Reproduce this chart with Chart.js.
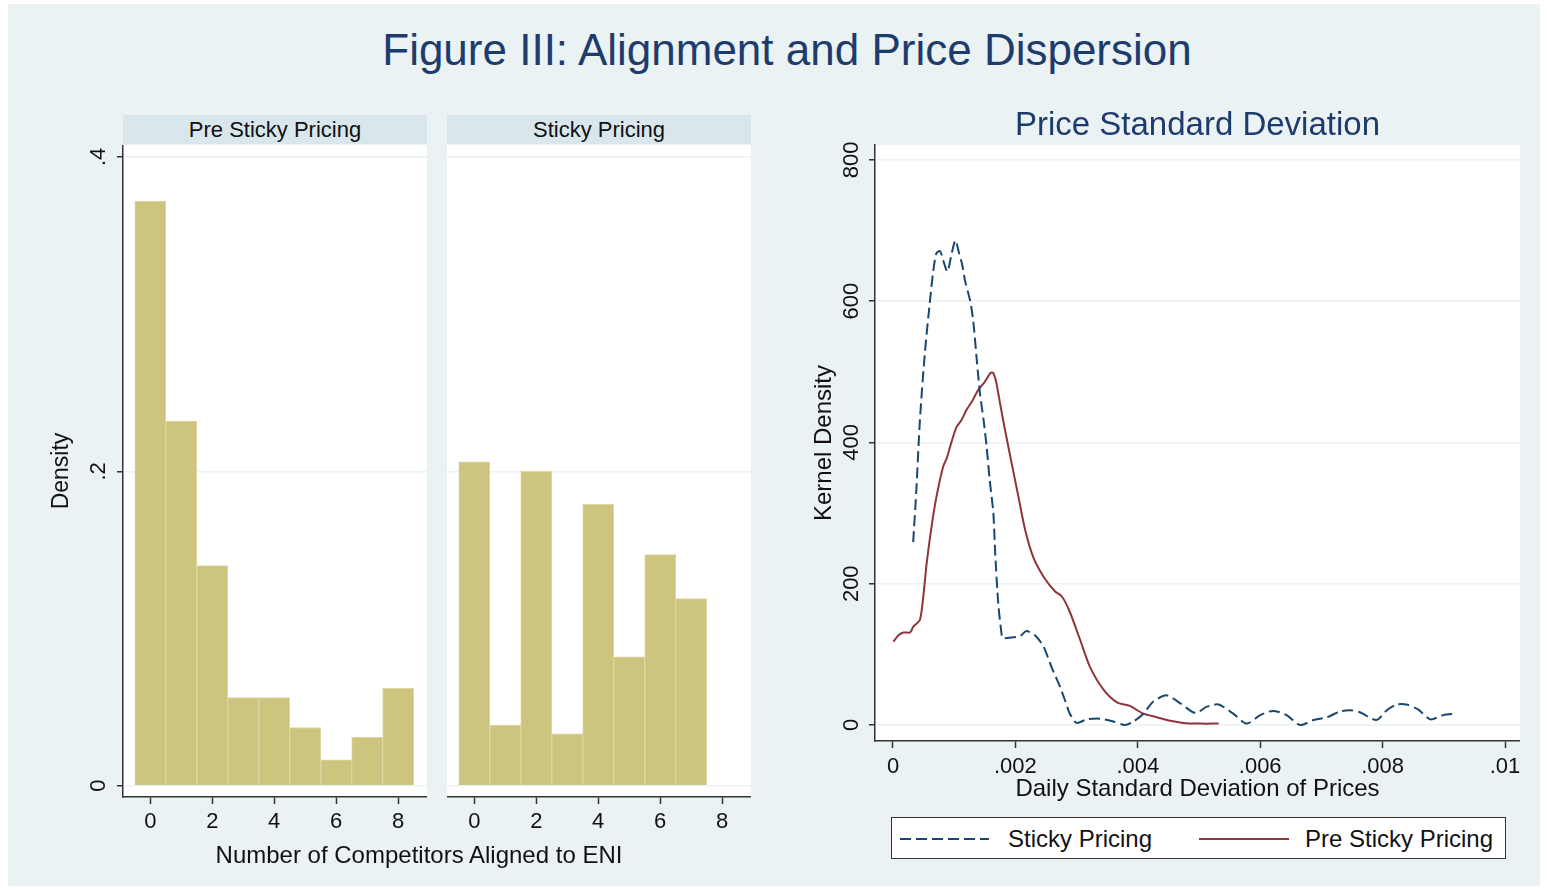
<!DOCTYPE html>
<html>
<head>
<meta charset="utf-8">
<script src="https://cdn.jsdelivr.net/npm/chart.js@4.4.1/dist/chart.umd.min.js"></script>
<style>
  html, body { margin: 0; padding: 0; background: #fff; }
  body { width: 1547px; height: 890px; position: relative; overflow: hidden;
         font-family: "Liberation Sans", Arial, sans-serif; }
  #frame { position: absolute; left: 8px; top: 4px; width: 1532px; height: 882px; background: #eaf2f3; }
  .abs { position: absolute; }
  #mainTitle { left: 0; width: 1574px; top: 25px; text-align: center; font-size: 44px; color: #1d3c6d; white-space: nowrap; }
  .strip { height: 29px; line-height: 29px; background: #d9e6eb; text-align: center; font-size: 22px; color: #111; }
  #histXTitle { left: 123px; width: 592px; top: 841px; text-align: center; font-size: 24px; color: #111; white-space: nowrap; }
  #legend { left: 891px; top: 817px; width: 613px; height: 40px; background: #fff; border: 1.5px solid #333; }
  #legend span { position: absolute; top: 7px; font-size: 24px; color: #111; white-space: nowrap; }
  #legend svg { position: absolute; left: 0; top: 0; }
</style>
</head>
<body>
<div id="frame"></div>
<div id="mainTitle" class="abs">Figure III: Alignment and Price Dispersion</div>
<div class="abs strip" style="left:123px; top:115px; width:304px;">Pre Sticky Pricing</div>
<div class="abs strip" style="left:447px; top:115px; width:304px;">Sticky Pricing</div>
<canvas id="histPre" class="abs" style="left:40px; top:145px;" width="387" height="700"></canvas>
<canvas id="histSticky" class="abs" style="left:447px; top:145px;" width="304" height="700"></canvas>
<div id="histXTitle" class="abs">Number of Competitors Aligned to ENI</div>
<canvas id="kdens" class="abs" style="left:780px; top:100px;" width="740" height="710"></canvas>
<div id="legend" class="abs">
  <svg width="613" height="40">
    <line x1="8" y1="21" x2="97" y2="21" stroke="#1a476f" stroke-width="2" stroke-dasharray="11,5"></line>
    <line x1="307" y1="21" x2="397" y2="21" stroke="#90353b" stroke-width="2"></line>
  </svg>
  <span style="left:116px;">Sticky Pricing</span>
  <span style="left:413px;">Pre Sticky Pricing</span>
</div>
<script>
// ---------- Data ----------
var binsPre = [0, 1, 2, 3, 4, 5, 6, 7, 8];
var densityPre = [0.372, 0.232, 0.140, 0.056, 0.056, 0.037, 0.0165, 0.031, 0.062];
var binsSticky = [0, 1, 2, 3, 4, 5, 6, 7];
var densitySticky = [0.206, 0.0386, 0.200, 0.033, 0.179, 0.082, 0.147, 0.119];
var histYTicks = [0, 0.2, 0.4];
var histXTicks = [0, 2, 4, 6, 8];

// kernel density of daily price std. dev.
var stickyX = [0.00033, 0.00038, 0.00044, 0.00052, 0.00060, 0.00066, 0.00071, 0.00077, 0.00082, 0.00089,
  0.00096, 0.00102, 0.00108, 0.00113, 0.00118, 0.00126, 0.00131, 0.00137, 0.00142, 0.00148,
  0.00153, 0.00158, 0.00164, 0.00167, 0.00172, 0.00178, 0.00180, 0.00194, 0.00208, 0.00218,
  0.00232, 0.00246, 0.00259, 0.00273, 0.00281, 0.00289, 0.00300, 0.00317, 0.00338, 0.00360,
  0.00379, 0.00393, 0.00409, 0.00425, 0.00447, 0.00469, 0.00494, 0.00513, 0.00532, 0.00556,
  0.00578, 0.00600, 0.00621, 0.00643, 0.00665, 0.00687, 0.00709, 0.00730, 0.00747, 0.00763,
  0.00790, 0.00807, 0.00823, 0.00839, 0.00858, 0.00878, 0.00899, 0.00921];
var stickyY = [259, 330, 432, 526, 597, 644, 668, 671, 658, 642,
  668, 686, 668, 652, 628, 601, 573, 516, 470, 432,
  394, 347, 300, 243, 172, 125, 123, 124, 126, 133,
  127, 111, 82, 54, 35, 16, 3, 8, 9, 5,
  0, 5, 16, 33, 42, 31, 17, 26, 29, 16,
  2, 14, 20, 14, 0, 7, 11, 19, 21, 18,
  7, 21, 29, 29, 22, 8, 14, 16];
var preX = [0.000005, 0.00009, 0.00017, 0.00028, 0.00033, 0.00044, 0.00050, 0.00055, 0.00063, 0.00071,
  0.00082, 0.00088, 0.00096, 0.00104, 0.00112, 0.00120, 0.00129, 0.00139, 0.00150, 0.00160,
  0.00164, 0.00169, 0.00175, 0.00183, 0.00194, 0.00205, 0.00216, 0.00229, 0.00246, 0.00265,
  0.00276, 0.00289, 0.00306, 0.00322, 0.00344, 0.00366, 0.00387, 0.00409, 0.00431, 0.00453,
  0.00474, 0.00502, 0.00532];
var preY = [118, 127, 131, 131, 139, 149, 186, 229, 281, 323,
  366, 378, 402, 422, 432, 446, 458, 474, 486, 499,
  498, 484, 455, 418, 370, 323, 276, 238, 210, 189,
  182, 160, 120, 82, 50, 32, 27, 16, 11, 6,
  3, 2, 2];
var kdXTicks = [0, 0.002, 0.004, 0.006, 0.008, 0.01];
var kdYTicks = [0, 200, 400, 600, 800];

// ---------- Shared bits ----------
var FONT = "'Liberation Sans', Arial, sans-serif";
var BAR_COLOR = '#cdc57f';
var BAR_EDGE = '#ddd7a4';
var AXIS_COLOR = '#333';
var GRID_COLOR = '#eaf2f3';
var TEXT_COLOR = '#111';

Chart.defaults.font.family = FONT;
Chart.defaults.color = TEXT_COLOR;
Chart.defaults.animation = false;

function zip(xs, ys) {
  return xs.map(function (x, i) { return { x: x, y: ys[i] }; });
}

function dropLeadingZero(v, digits) {
  if (v === 0) return '0';
  return v.toFixed(digits).replace(/^0/, '').replace(/0+$/, '');
}

function fixTicks(values) {
  return function (scale) {
    scale.ticks = values.map(function (v) { return { value: v }; });
  };
}

// white plot region, like Stata's plotregion
var plotBg = {
  id: 'plotBg',
  beforeDraw: function (chart) {
    var a = chart.chartArea;
    var ctx = chart.ctx;
    ctx.save();
    ctx.fillStyle = '#fff';
    ctx.fillRect(a.left, a.top, a.right - a.left, a.bottom - a.top);
    ctx.restore();
  }
};

// y tick labels turned 90 degrees, read bottom to top
var sideLabels = {
  id: 'sideLabels',
  afterDraw: function (chart, args, opts) {
    if (!opts || !opts.show) return;
    var s = chart.scales.y;
    var ctx = chart.ctx;
    ctx.save();
    ctx.font = opts.size + 'px ' + FONT;
    ctx.fillStyle = TEXT_COLOR;
    ctx.textAlign = 'center';
    ctx.textBaseline = 'middle';
    s.ticks.forEach(function (t) {
      var y = s.getPixelForValue(t.value);
      ctx.save();
      ctx.translate(s.right - opts.gap, y);
      ctx.rotate(-Math.PI / 2);
      ctx.fillText(t.label, 0, 0);
      ctx.restore();
    });
    ctx.restore();
  }
};

function histOptions(showY) {
  return {
    responsive: false,
    layout: { padding: 0 },
    plugins: {
      legend: { display: false },
      tooltip: { enabled: false },
      sideLabels: { show: showY, gap: 24, size: 22 }
    },
    scales: {
      x: {
        type: 'linear',
        min: -0.88,
        max: 8.93,
        offset: false,
        afterBuildTicks: fixTicks(histXTicks),
        afterFit: function (s) { s.height = 48; s.paddingLeft = 0; s.paddingRight = 0; },
        grid: { offset: false, drawOnChartArea: false, drawTicks: true, tickLength: 7, tickColor: AXIS_COLOR, tickWidth: 1.5 },
        border: { display: true, color: AXIS_COLOR, width: 1.5 },
        ticks: { font: { size: 22 }, padding: 5, maxRotation: 0, color: TEXT_COLOR }
      },
      y: {
        min: -0.0072,
        max: 0.4076,
        afterBuildTicks: fixTicks(histYTicks),
        afterFit: function (s) { s.width = showY ? 83 : 0; },
        grid: { color: GRID_COLOR, lineWidth: 1.5, drawTicks: showY, tickLength: 6, tickColor: AXIS_COLOR, tickWidth: 1.5 },
        border: { display: showY, color: AXIS_COLOR, width: 1.5 },
        ticks: { display: false, callback: function (v) { return dropLeadingZero(v, 1); } },
        title: {
          display: showY,
          text: 'Density',
          font: { size: 23 },
          color: TEXT_COLOR,
          padding: { top: 8, bottom: 0 }
        }
      }
    }
  };
}

function histDataset(bins, values) {
  return {
    datasets: [{
      data: zip(bins, values),
      backgroundColor: BAR_COLOR,
      borderColor: BAR_EDGE,
      borderWidth: 1,
      barPercentage: 1,
      categoryPercentage: 1
    }]
  };
}

new Chart(document.getElementById('histPre'), {
  type: 'bar',
  data: histDataset(binsPre, densityPre),
  options: histOptions(true),
  plugins: [plotBg, sideLabels]
});

new Chart(document.getElementById('histSticky'), {
  type: 'bar',
  data: histDataset(binsSticky, densitySticky),
  options: histOptions(false),
  plugins: [plotBg, sideLabels]
});

// ---------- Kernel density panel ----------
new Chart(document.getElementById('kdens'), {
  type: 'line',
  data: {
    datasets: [{
      label: 'Sticky Pricing',
      data: zip(stickyX, stickyY),
      borderColor: '#1a476f',
      borderWidth: 2,
      borderDash: [11, 5],
      pointRadius: 0,
      fill: false,
      tension: 0.25
    }, {
      label: 'Pre Sticky Pricing',
      data: zip(preX, preY),
      borderColor: '#90353b',
      borderWidth: 2,
      pointRadius: 0,
      fill: false,
      tension: 0.25
    }]
  },
  options: {
    responsive: false,
    layout: { padding: 0 },
    plugins: {
      legend: { display: false },
      tooltip: { enabled: false },
      title: {
        display: true,
        text: 'Price Standard Deviation',
        fullSize: false,
        color: '#1d3c6d',
        font: { size: 33, weight: 'normal', lineHeight: 1.1 },
        padding: { top: 8, bottom: 0.7 }
      },
      sideLabels: { show: true, gap: 23, size: 22 }
    },
    scales: {
      x: {
        type: 'linear',
        min: -0.000294,
        max: 0.010245,
        afterBuildTicks: fixTicks(kdXTicks),
        afterFit: function (s) { s.height = 69; s.paddingLeft = 0; s.paddingRight = 0; },
        grid: { drawOnChartArea: false, drawTicks: true, tickLength: 7, tickColor: AXIS_COLOR, tickWidth: 1.5 },
        border: { display: true, color: AXIS_COLOR, width: 1.5 },
        ticks: {
          font: { size: 22 },
          padding: 6,
          maxRotation: 0,
          color: TEXT_COLOR,
          callback: function (v) { return dropLeadingZero(v, 3); }
        },
        title: {
          display: true,
          text: 'Daily Standard Deviation of Prices',
          font: { size: 24 },
          color: TEXT_COLOR,
          padding: { top: 0, bottom: 6 }
        }
      },
      y: {
        min: -22.65,
        max: 821.2,
        afterBuildTicks: fixTicks(kdYTicks),
        afterFit: function (s) { s.width = 95; },
        grid: { color: GRID_COLOR, lineWidth: 1.5, drawTicks: true, tickLength: 6, tickColor: AXIS_COLOR, tickWidth: 1.5 },
        border: { display: true, color: AXIS_COLOR, width: 1.5 },
        ticks: { display: false },
        title: {
          display: true,
          text: 'Kernel Density',
          font: { size: 24 },
          color: TEXT_COLOR,
          padding: { top: 30, bottom: 0 }
        }
      }
    }
  },
  plugins: [plotBg, sideLabels]
});
</script>
</body>
</html>
